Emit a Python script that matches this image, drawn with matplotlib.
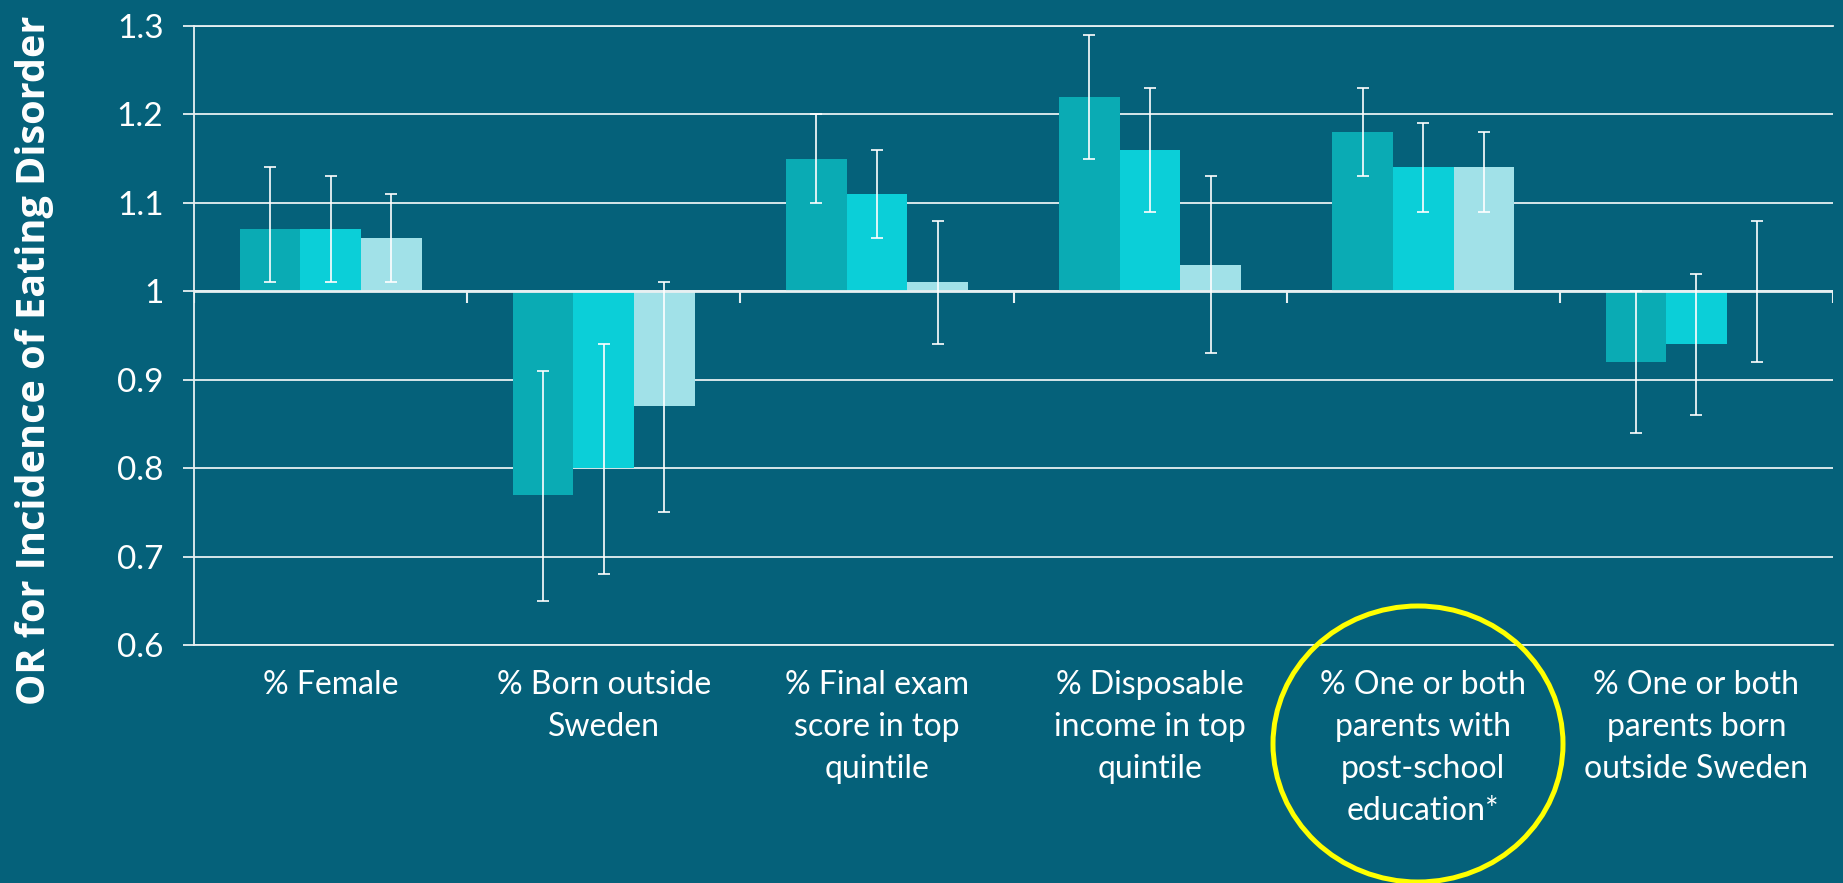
import numpy as np
import matplotlib
matplotlib.use("Agg")
import matplotlib.pyplot as plt
from matplotlib.patches import Ellipse

# Datos
categorias = ['% Female', '% Born outside\nSweden', '% Final exam\nscore in top\nquintile',
              '% Disposable\nincome in top\nquintile', '% One or both\nparents with\npost-school\neducation*',
              '% One or both\nparents born\noutside Sweden']
serie1 = [1.07, 0.77, 1.15, 1.22, 1.18, 0.92]
serie1_lo = [1.01, 0.65, 1.10, 1.15, 1.13, 0.84]
serie1_hi = [1.14, 0.91, 1.20, 1.29, 1.23, 1.00]
serie2 = [1.07, 0.80, 1.11, 1.16, 1.14, 0.94]
serie2_lo = [1.01, 0.68, 1.06, 1.09, 1.09, 0.86]
serie2_hi = [1.13, 0.94, 1.16, 1.23, 1.19, 1.02]
serie3 = [1.06, 0.87, 1.01, 1.03, 1.14, 1.00]
serie3_lo = [1.01, 0.75, 0.94, 0.93, 1.09, 0.92]
serie3_hi = [1.11, 1.01, 1.08, 1.13, 1.18, 1.08]
yticks = [0.6, 0.7, 0.8, 0.9, 1.0, 1.1, 1.2, 1.3]
ytick_labels = ['0.6', '0.7', '0.8', '0.9', '1', '1.1', '1.2', '1.3']

# Estilo
fondo = '#05617A'
linea = '#E8F0F2'
colores = ['#0AABB4', '#0BCFD8', '#A1E1E8']
fuente = 'Lato'

fig = plt.figure(figsize=(18.43, 8.83), dpi=100, facecolor=fondo)
ax = fig.add_axes([0.1053, 0.2695, 0.8893, 0.7011])
ax.set_facecolor(fondo)

x = np.arange(len(categorias))
ancho = 0.222
series = [(serie1, serie1_lo, serie1_hi), (serie2, serie2_lo, serie2_hi), (serie3, serie3_lo, serie3_hi)]
for i, (vals, lo, hi) in enumerate(series):
    vals = np.array(vals)
    pos = x + (i - 1) * ancho
    ax.bar(pos, vals - 1.0, bottom=1.0, width=ancho, color=colores[i], zorder=2)
    ax.errorbar(pos, vals, yerr=[vals - np.array(lo), np.array(hi) - vals], fmt='none',
                ecolor='white', elinewidth=1.2, capsize=4.5, capthick=1.2, zorder=4)

ax.set_xlim(-0.5, len(categorias) - 0.5)
ax.set_ylim(0.6, 1.3)

# Rejilla
ax.set_yticks(yticks)
ax.set_yticklabels(ytick_labels)
ax.yaxis.grid(True, color=linea, lw=1.3)
ax.set_axisbelow(True)

# Eje horizontal en 1.0 con marcas entre categorias
ax.axhline(1.0, color=linea, lw=2, zorder=3)
limites = np.arange(len(categorias) + 1) - 0.5
largo = 0.7 * 12 / 619
ax.vlines(limites, 1.0 - largo, 1.0, color=linea, lw=1.5, zorder=3)

ax.spines['right'].set_visible(False)
for lado in ['top', 'bottom', 'left']:
    ax.spines[lado].set_color(linea)
    ax.spines[lado].set_linewidth(1.3)

ax.set_xticks(x)
ax.set_xticklabels(categorias, fontsize=23, color='white', family=fuente, linespacing=1.5)
ax.tick_params(axis='x', length=0, pad=18)
ax.tick_params(axis='y', colors=linea, length=8, width=1.3, pad=14, labelsize=24, labelcolor='white')
for t in ax.get_yticklabels():
    t.set_family(fuente)

fig.text(35 / 1843, 1 - 360 / 883, 'OR for Incidence of Eating Disorder', rotation=90,
         ha='center', va='center', fontsize=28.5, fontweight='bold', color='white', family='Open Sans')

# Circulo amarillo
elipse = Ellipse((1418 / 1843, 1 - 744 / 883), 290 / 1843, 276 / 883, transform=fig.transFigure,
                 fill=False, edgecolor='#FFFF00', lw=3.6)
fig.patches.append(elipse)

fig.savefig('out.png', dpi=100, facecolor=fondo)
